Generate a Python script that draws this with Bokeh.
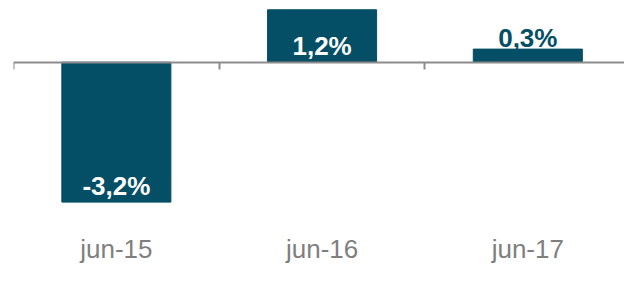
from bokeh.plotting import figure
from bokeh.models import Range1d, FixedTicker, LinearAxis, ColumnDataSource
from bokeh.embed import file_html
from bokeh.resources import INLINE
from bokeh.core.properties import value

# ---- data ----
categories = ["jun-15", "jun-16", "jun-17"]
values = [-3.2, 1.2, 0.3]
value_labels = ["-3,2%", "1,2%", "0,3%"]

# ---- styles ----
BAR = "#044e66"
CAT_GREY = "#7f7f7f"
AXIS_GREY = "#8c8c8c"
FONT = "Liberation Sans"

n = len(categories)
centers = [i + 0.5 for i in range(n)]
inside = [abs(v) >= 1 for v in values]
label_y = [(v if v < 0 else 0) if ins else v for v, ins in zip(values, inside)]
label_off = [-16 if ins else -11 for ins in inside]
label_col = ["white" if ins else BAR for ins in inside]

src = ColumnDataSource(dict(x=centers, top=values, lab=value_labels,
                            ly=label_y, loff=label_off, lcol=label_col))

p = figure(width=624, height=266, output_backend="svg", toolbar_location=None,
           x_range=Range1d(0, 2.97), y_range=Range1d(-3.346, 1.412),
           y_axis_location=None, min_border_left=13, min_border_right=0,
           min_border_top=0, min_border_bottom=50)
p.outline_line_color = None
p.grid.visible = False
p.background_fill_color = "white"
p.border_fill_color = "white"

p.vbar(x="x", top="top", bottom=0, width=0.53, color=BAR, source=src)
p.text(x="x", y="ly", text="lab", y_offset="loff", text_color="lcol",
       text_align="center", text_baseline="alphabetic",
       text_font=value(FONT), text_font_style="bold", text_font_size="26px",
       source=src)

# category labels axis
ax = p.xaxis[0]
ax.ticker = FixedTicker(ticks=centers)
ax.major_label_overrides = {c: lab for c, lab in zip(centers, categories)}
ax.axis_line_color = None
ax.major_tick_line_color = None
ax.minor_tick_line_color = None
ax.major_label_standoff = 19
ax.major_label_text_font = FONT
ax.major_label_text_font_size = "26px"
ax.major_label_text_color = CAT_GREY

# zero line with category boundary ticks
zero_axis = LinearAxis(fixed_location=0, ticker=FixedTicker(ticks=list(range(n + 1))),
                       axis_line_color=AXIS_GREY, axis_line_width=2,
                       major_tick_line_color=AXIS_GREY, major_tick_line_width=2,
                       major_tick_in=0, major_tick_out=7,
                       minor_tick_line_color=None,
                       major_label_text_color=None, major_label_standoff=0)
p.add_layout(zero_axis, "below")

open("out.html", "w").write(file_html(p, INLINE))
